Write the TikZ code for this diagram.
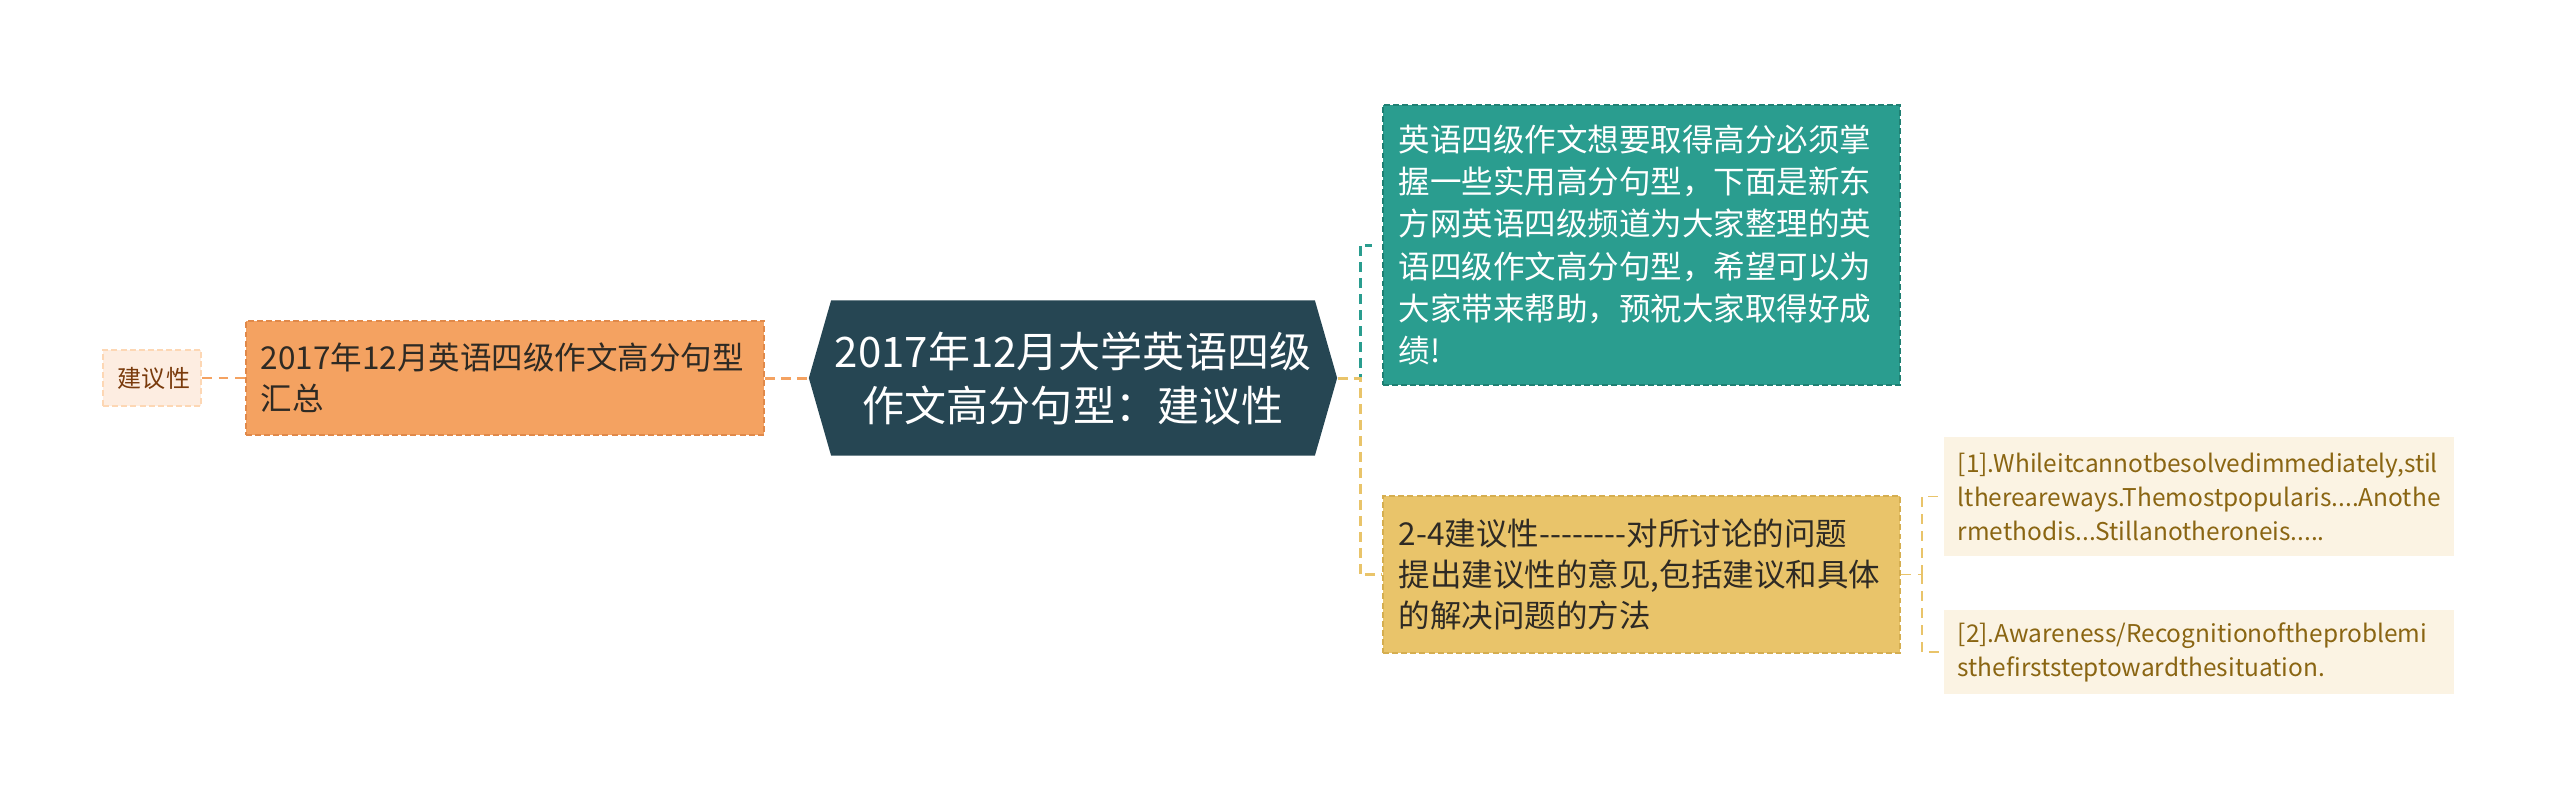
\documentclass[tikz,border=0pt]{standalone}
\usepackage{fontspec}
\setmainfont{Noto Sans CJK SC}
\usetikzlibrary{shapes.symbols}
\definecolor{hexfill}{HTML}{264653}
\definecolor{tealfill}{HTML}{2A9D8F}
\definecolor{tealedge}{HTML}{1F8073}
\definecolor{orangefill}{HTML}{F4A261}
\definecolor{orangeedge}{HTML}{E0894A}
\definecolor{yellowfill}{HTML}{E9C46A}
\definecolor{yellowedge}{HTML}{D5AE50}
\definecolor{peachfill}{HTML}{FDEDE1}
\definecolor{peachtext}{HTML}{7A3B0C}
\definecolor{creamfill}{HTML}{FBF3E3}
\definecolor{creamtext}{HTML}{8A6512}
\definecolor{darktext}{HTML}{2E2A24}

\begin{document}
\begin{tikzpicture}[x=0.01cm,y=-0.01cm]
\useasboundingbox (0,0) rectangle (2560,799);
% centre topic
\begin{scope}[every node/.style={signal,signal to=east and west,signal pointer angle=148,
              fill=hexfill,text=white,minimum width=5.28cm,minimum height=1.55cm,
              inner sep=0pt,align=center,font=\fontsize{11.95pt}{15.36pt}\selectfont}]
    \node (H) at (1073,378) {2017年12月大学英语四级\\作文高分句型：建议性};
\end{scope}
% left branch
\begin{scope}[every node/.style={rectangle,dashed,line width=0.4pt,dash pattern=on 1.7pt off 0.9pt,
              inner xsep=0.15cm,inner ysep=0pt,align=left}]
    \node (L1) [fill=orangefill,draw=orangeedge,text=darktext,text width=4.88cm,minimum height=1.14cm,
          font=\fontsize{8.96pt}{11.67pt}\selectfont] at (505,378) {2017年12月英语四级作文高分句型\\汇总};
    \node (L2) [fill=peachfill,draw=peachfill!80!orange,text=peachtext,text width=0.68cm,minimum height=0.56cm,
          align=center,font=\fontsize{6.83pt}{8pt}\selectfont] at (152,378) {建议性};
\end{scope}
% right branch
\begin{scope}[every node/.style={rectangle,dashed,line width=0.4pt,dash pattern=on 1.7pt off 0.9pt,
              inner xsep=0.16cm,inner ysep=0pt,align=left,text width=4.85cm,
              font=\fontsize{8.96pt}{11.75pt}\selectfont}]
    \node (R1) [fill=tealfill,draw=tealedge,text=white,minimum height=2.8cm,
          font=\fontsize{8.96pt}{12pt}\selectfont] at (1641.5,245)
          {英语四级作文想要取得高分必须掌\\握一些实用高分句型，下面是新东\\方网英语四级频道为大家整理的英\\语四级作文高分句型，希望可以为\\大家带来帮助，预祝大家取得好成\\绩!};
    \node (R2) [fill=yellowfill,draw=yellowedge,text=darktext,minimum height=1.57cm] at (1641.5,574.5)
          {2-4建议性-{}-{}-{}-{}-{}-{}-{}-对所讨论的问题\\提出建议性的意见,包括建议和具体\\的解决问题的方法};
\end{scope}
\begin{scope}[every node/.style={rectangle,fill=creamfill,text=creamtext,inner xsep=0.14cm,inner ysep=0pt,
              align=left,text width=4.82cm,font=\fontsize{6.95pt}{9.67pt}\selectfont}]
    \node (S1) [minimum height=1.19cm] at (2199,496.5)
          {[1].Whileitcannotbesolvedimmediately,stil\\lthereareways.Themostpopularis....Anothe\\rmethodis...Stillanotheroneis.....};
    \node (S2) [minimum height=0.84cm] at (2199,652)
          {[2].Awareness/Recognitionoftheproblemi\\sthefirststeptowardthesituation.};
\end{scope}
% connectors
\coordinate (JR) at (1360,378);
\coordinate (JS) at (1922,574.5);
\begin{scope}[line width=0.85pt,dash pattern=on 2.85pt off 1.7pt]
    \draw [orangefill] (L1.east) -- (H.west);
    \draw [tealfill,shorten >=2.8pt] (H.east) -- (JR) |- (R1.west);
    \draw [yellowfill] (H.east) -- (JR) |- (R2.west);
\end{scope}
\begin{scope}[line width=0.43pt,dash pattern=on 2.8pt off 2pt]
    \draw [orangefill] (L2.east) -- (L1.west);
    \draw [yellowfill] (R2.east) -- (JS);
    \draw [yellowfill,shorten >=0.8pt] (JS) |- (S1.west);
    \draw [yellowfill,shorten >=0.8pt] (JS) |- (S2.west);
\end{scope}
\end{tikzpicture}
\end{document}
